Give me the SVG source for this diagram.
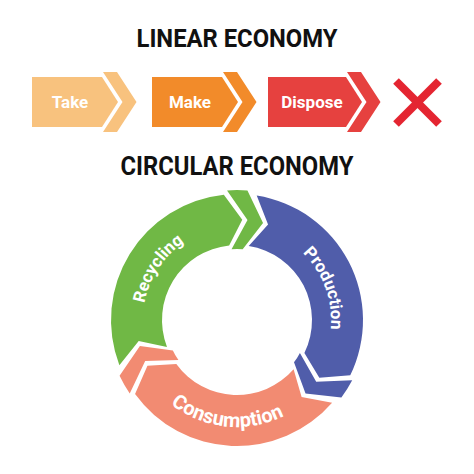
<svg xmlns="http://www.w3.org/2000/svg" width="474" height="474" viewBox="0 0 474 474">
<style>
.title{font-family:Roboto,"Liberation Sans",sans-serif;font-weight:700;fill:#111;text-anchor:middle}
.lab{font-family:Roboto,"Liberation Sans",sans-serif;font-weight:700;fill:#fff;text-anchor:middle;font-size:17px}
.ring{font-family:Roboto,"Liberation Sans",sans-serif;font-weight:700;fill:#fff}
.take{fill:#F8C27E}.make{fill:#F28B2A}.disp{fill:#E6413F}
.green{fill:#70B845}.blue{fill:#505DAA}.salmon{fill:#F28B72}
</style>
<defs>
<path id="pRec" d="M153.25,362.68 A94,94 0 0 1 241.92,226.13"/>
<path id="pPro" d="M253.32,227.43 A94,94 0 0 1 309.01,380.42"/>
<path id="pCon" d="M139.25,363.52 A107,107 0 0 0 323.56,382.89"/>
</defs>
<rect width="474" height="474" fill="#fff"/>
<text class="title" x="237" y="47" font-size="26.5" textLength="201" lengthAdjust="spacingAndGlyphs">LINEAR ECONOMY</text>
<g id="take">
<polygon class="take" points="32,77 102,77 118,102 102,127 32,127"/>
<polygon class="take" points="103,72 117,72 136.5,102 117,132 103,132 122.5,102"/>
<text class="lab" x="70" y="108">Take</text>
</g>
<g id="make">
<polygon class="make" points="152,77 222,77 238,102 222,127 152,127"/>
<polygon class="make" points="223,72 237,72 256.5,102 237,132 223,132 242.5,102"/>
<text class="lab" x="190" y="108">Make</text>
</g>
<g id="dispose">
<polygon class="disp" points="268,77 346,77 362,102 346,127 268,127"/>
<polygon class="disp" points="347,72 361,72 380.5,102 361,132 347,132 366.5,102"/>
<text class="lab" x="312" y="108">Dispose</text>
</g>
<g id="cross" stroke="#E42531" stroke-width="8">
<line x1="396" y1="81" x2="439" y2="124"/>
<line x1="439" y1="81" x2="396" y2="124"/>
</g>
<text class="title" x="237" y="175" font-size="25" textLength="233" lengthAdjust="spacingAndGlyphs">CIRCULAR ECONOMY</text>
<g id="recycling">
<path class="green" d="M119.37,365.15 A126,126 0 0 1 223.83,194.69 L242.26,219.64 L229.16,245.41 A75,75 0 0 0 166.98,346.88 L138.70,340.90 Z"/>
<path class="green" d="M227.03,190.38 A130,130 0 0 1 247.43,190.42 L263.01,222.92 L242.69,249.23 A71,71 0 0 0 231.55,249.21 L247.51,220.05 Z"/>
<text class="ring" font-size="17"><textPath href="#pRec" startOffset="50%" text-anchor="middle">Recycling</textPath></text>
</g>
<g id="production">
<path class="blue" d="M256.71,195.55 A126,126 0 0 1 350.25,375.23 L319.32,377.64 L304.41,352.88 A75,75 0 0 0 248.73,245.92 L268.06,224.41 Z"/>
<path class="blue" d="M352.21,380.23 A130,130 0 0 1 341.37,397.51 L305.54,393.50 L294.00,362.33 A71,71 0 0 0 299.92,352.89 L316.20,381.87 Z"/>
<text class="ring" font-size="17"><textPath href="#pPro" startOffset="50%" text-anchor="middle">Production</textPath></text>
</g>
<g id="consumption">
<path class="salmon" d="M332.09,402.66 A126,126 0 0 1 135.06,394.06 L147.45,365.63 L176.32,364.08 A75,75 0 0 0 293.60,369.20 L301.60,396.99 Z"/>
<path class="salmon" d="M129.74,393.45 A130,130 0 0 1 119.57,375.76 L139.92,346.01 L172.86,350.45 A71,71 0 0 0 178.42,360.11 L145.19,360.88 Z"/>
<text class="ring" font-size="20"><textPath href="#pCon" startOffset="50%" text-anchor="middle">Consumption</textPath></text>
</g>
<g id="connectors"/>
</svg>
